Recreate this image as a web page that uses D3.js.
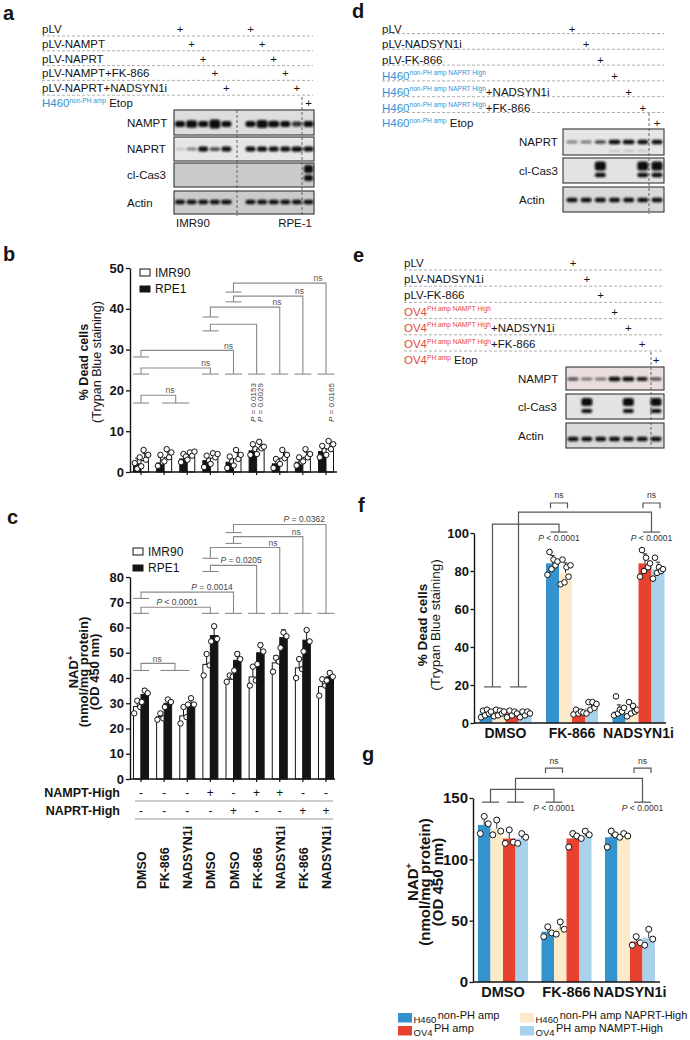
<!DOCTYPE html>
<html><head><meta charset="utf-8">
<script src="https://cdn.jsdelivr.net/npm/d3@7/dist/d3.min.js"></script>
<style>
html,body{margin:0;padding:0;background:#fff}
svg{display:block}
text{font-family:Arial,"Liberation Sans",Helvetica,sans-serif}
</style></head><body>
<script>
// ================= DATA =================
// Panel a (western blot layout)
const aRows = ["pLV","pLV-NAMPT","pLV-NAPRT","pLV-NAMPT+FK-866","pLV-NAPRT+NADSYN1i"];
const aRowLanes = [[0,5],[1,6],[2,7],[3,8],[4,9]];
const aBlotLabels = ["NAMPT","NAPRT","cl-Cas3","Actin"];
const aNAMPT = [1,1.25,1,1.5,1, 1,1.3,1.1,1,0.85, 1];
const aNAPRT = [0.15,0.45,1,0.75,1, 1,1,1,1,1.05, 1];
const aCas3  = [0,0,0,0,0, 0,0,0,0,0, 1];
const aActin = [1,1,1,1,1.05, 1,1,1,1,1, 1];
const aCells = ["IMR90","RPE-1"];

// Panel b
const bTicks = [0,10,20,30,40,50];
const bIMR90 = [2.8,3.6,3.6,3.4,3.2,5.6,3.4,3.6,5.6];
const bRPE1  = [2.0,2.2,3.2,2.8,2.4,5.2,2.0,2.4,5.0];
const bIMR90pts = [[1.4,5.4,3.0,4.2],[2.6,5.6,3.6,4.8],[3.0,4.8,4.0,5.0],[2.0,4.6,3.6,4.4],[1.6,5.4,3.2,4.2],[4.4,7.4,5.8,6.2],[2.0,5.4,3.4,4.2],[2.6,5.6,3.6,4.4],[4.2,7.6,5.6,6.8]];
const bRPE1pts  = [[2.2,0.8,3.6],[1.5,4.2,2.4],[2.4,4.4,3.8],[1.2,4.0,2.8],[1.0,3.8,2.6],[4.2,6.8,5.6],[1.0,3.2,2.4],[1.6,3.6,2.4],[3.6,6.4,5.2]];
const bBrackets = [
  {from:0, fc:16.9, to:1.5, tc:16.9, top:18.8, tw:27, label:"ns", lx:1.25},
  {from:0, fc:24.0, to:3, tc:24.0, top:25.5, label:"ns", lx:2.8},
  {from:0, fc:28.2, to:4, tc:24.0, top:29.8, label:"ns", lx:3.78},
  {from:3, fc:34.6, to:5, tc:24.0, top:36.2, label:"", lx:0},
  {from:3, fc:38.0, to:6, tc:24.0, top:40.4, label:"ns", lx:5.88},
  {from:4, fc:41.7, to:7, tc:24.0, top:43.1, label:"ns", lx:6.85},
  {from:4, fc:44.1, to:8, tc:24.0, top:46.3, label:"ns", lx:7.65}
];
const bRotP = [{g:5, dx:-1, t:"0.0153"},{g:5, dx:6, t:"0.0029"},{g:8, dx:8, t:"0.0165"}];

// Panel c
const cTicks = [0,10,20,30,40,50,60,70,80];
const cIMR90 = [28.7,24.7,25.0,45.4,39.5,40.4,46.0,44.0,36.6];
const cRPE1  = [33.5,30.0,30.0,56.8,47.0,50.0,56.0,55.0,40.5];
const cIMR90pts = [[26,31,28.5],[23.5,26,24],[22,28.5,24.5],[41,49.5,45],[38.5,41,40.5],[37,44.5,39],[42.5,48,46.5],[40,47.5,43.5],[33,39.5,37]];
const cRPE1pts  = [[30.5,35,34],[28.5,31.5,30.5],[29.5,32,29.5],[54.5,60.5,55.5],[43,49.5,47.5],[45.5,53,50.5],[52,58,56.5],[50.5,59,54.5],[39,42,40.5]];
const cBrackets = [
  {from:0, fc:43, to:1.47, tc:43, top:45.8, tw:29, label:"ns", lx:0.7},
  {from:0, fc:65.6, to:3, tc:65.6, top:68, label:"P < 0.0001", lx:1.56},
  {from:0, fc:71.5, to:4, tc:65.6, top:74, label:"P = 0.0014", lx:3.07},
  {from:3, fc:82.2, to:5, tc:65.6, top:84.6, label:"P = 0.0205", lx:4.33},
  {from:3, fc:87.4, to:6, tc:65.6, top:91.7, label:"ns", lx:5.71},
  {from:4, fc:93.3, to:7, tc:65.6, top:96, label:"ns", lx:6.71},
  {from:4, fc:97.6, to:8, tc:65.6, top:100.8, label:"P = 0.0362", lx:7.06}
];
const cNAMPT = ["-","-","-","+","-","+","+","-","-"];
const cNAPRT = ["-","-","-","-","+","-","-","+","+"];
const cTreat = ["DMSO","FK-866","NADSYN1i","DMSO","DMSO","FK-866","NADSYN1i","FK-866","NADSYN1i"];

// Panel d
const dRows = [
  [{t:"pLV"}],
  [{t:"pLV-NADSYN1i"}],
  [{t:"pLV-FK-866"}],
  [{t:"H460",c:"b"},{t:"non-PH amp NAPRT High",c:"b",sup:true}],
  [{t:"H460",c:"b"},{t:"non-PH amp NAPRT High",c:"b",sup:true},{t:"+NADSYN1i"}],
  [{t:"H460",c:"b"},{t:"non-PH amp NAPRT High",c:"b",sup:true},{t:"+FK-866"}],
  [{t:"H460",c:"b"},{t:"non-PH amp",c:"b",sup:true},{t:" Etop"}]
];
const dNAPRT = [0.55,0.6,0.75,1.05,1.05,1,1];
const dNAPRTlow = [0,0,0,0.2,0.25,0.2,0];
const dCas3  = [0,0,1,0,0,1,1];
const dActin = [1,1,1,1,1,1,1];

// Panel e
const eRows = [
  [{t:"pLV"}],
  [{t:"pLV-NADSYN1i"}],
  [{t:"pLV-FK-866"}],
  [{t:"OV4",c:"r"},{t:"PH amp NAMPT High",c:"r",sup:true}],
  [{t:"OV4",c:"r"},{t:"PH amp NAMPT High",c:"r",sup:true},{t:"+NADSYN1i"}],
  [{t:"OV4",c:"r"},{t:"PH amp NAMPT High",c:"r",sup:true},{t:"+FK-866"}],
  [{t:"OV4",c:"r"},{t:"PH amp",c:"r",sup:true},{t:" Etop"}]
];
const eNAMPT = [0.75,0.6,0.6,1.1,1.1,0.95,0.75];
const eCas3  = [0,1,0,0,1,0,1];
const eActin = [1,1,1,1,1,1,1];

// Panel f
const fGroups = ["DMSO","FK-866","NADSYN1i"];
const fTicks = [0,20,40,60,80,100];
const fH460   = [5,84,6];
const fH460N  = [5,79,6.5];
const fOV4    = [5,6,84];
const fOV4N   = [4.5,8,81];
const fH460pts  = [[3,6.5,4,7,5,6],[78,90,81,86,83,85],[4,14,5,7,6,8]];
const fH460Npts = [[3.5,7,4,6.5,5,6],[73,86,74,82,77,83],[3.5,11,5,9,6,7]];
const fOV4pts   = [[3,6.5,4,6,5],[4.5,7,5,6,5.5],[77,91,80,87,82,84]];
const fOV4Npts  = [[3,6,4,6,5],[5,11,7,11,8,10],[76,87,79,82,80,81]];
const fSig = [{pairs:[[0,0],[1,0]], low:19, high:100.5, top:104.7, p:"< 0.0001", nsLeg:113, nsTop:115.8},
              {pairs:[[0,1],[2,1]], low:19, high:100.5, top:111,   p:"< 0.0001", nsLeg:113, nsTop:115.8}];

// Panel g
const gGroups = ["DMSO","FK-866","NADSYN1i"];
const gTicks = [0,50,100,150];
const gH460   = [128,41,118];
const gH460N  = [125,43,119];
const gOV4    = [117,117,33];
const gOV4N   = [117,119,36];
const gH460pts  = [[121,135,129],[37,45,40],[110,123,120]];
const gH460Npts = [[120,132,123],[39,49,43],[118,121,119]];
const gOV4pts   = [[113,124,114],[110,121,119],[30,37,32]];
const gOV4Npts  = [[113,121,118],[117,123,120],[30,43,35]];
const gSig = [{pairs:[[0,0],[1,0]], low:146.6, high:146.6, top:157, p:"< 0.0001", nsLeg:170.3, nsTop:174.4},
              {pairs:[[0,1],[2,1]], low:146.6, high:146.6, top:166, p:"< 0.0001", nsLeg:170.3, nsTop:174.4}];
const gLegend = [
  {t:"H460", s:"non-PH amp", k:0, col:0, row:0},
  {t:"OV4",  s:"PH amp", k:2, col:0, row:1},
  {t:"H460", s:"non-PH amp NAPRT-High", k:1, col:1, row:0},
  {t:"OV4",  s:"PH amp NAMPT-High", k:3, col:1, row:1}
];

// ================= DRAWING =================
const BLUE = "#3b8fd0", RED = "#e8453c";
const SER_COL = ["#3492cc","#fdeac8","#e84130","#a8d2eb"];
const TXT = "#141414";
const svg = d3.select("body").append("svg").attr("width",690).attr("height",1040);
const defs = svg.append("defs");
defs.append("filter").attr("id","blur").attr("x","-50%").attr("y","-100%").attr("width","200%").attr("height","300%")
  .append("feGaussianBlur").attr("stdDeviation",0.8);

function letter(x,y,t){ svg.append("text").attr("x",x).attr("y",y).attr("font-size",20).attr("font-weight","bold").attr("fill",TXT).text(t); }

function rich(g, x, y, parts, fs, sfs, rise){
  const t = g.append("text").attr("x",x).attr("y",y).attr("font-size",fs).attr("fill",TXT);
  let up = false;
  parts.forEach(p=>{
    const ts = t.append("tspan").text(p.t).attr("fill", p.c==="b"?BLUE:(p.c==="r"?RED:TXT));
    if(p.sup){ ts.attr("font-size",sfs); if(!up){ ts.attr("dy",-rise); up=true; } }
    else if(up){ ts.attr("dy",rise); up=false; }
  });
  return t;
}

function blotPanel(g, x0, x1, y0, y1, bg, lanes, vals, bands){
  g.append("rect").attr("x",x0).attr("y",y0).attr("width",x1-x0).attr("height",y1-y0)
    .attr("fill",bg).attr("stroke",bg==="none"?"none":"#333").attr("stroke-width",1.1);
  const bg2 = g.append("g").attr("filter","url(#blur)");
  lanes.forEach((lx,i)=>{
    const v = vals[i]; if(!v) return;
    bands.forEach(b=>{
      const h = b.h*Math.max(0.6, Math.min(v,1.6));
      const w = b.w*(v>1?1.08:1);
      bg2.append("rect").attr("x",lx-w/2).attr("y",y0+b.cy-h/2).attr("width",w).attr("height",h)
        .attr("rx",Math.min(h/2,2.5)).attr("fill","#0d0d0d").attr("opacity",Math.min(1,v));
    });
  });
}

function dashH(g,x1,x2,y){ g.append("line").attr("x1",x1).attr("x2",x2).attr("y1",y).attr("y2",y).attr("stroke","#9a9a9a").attr("stroke-width",0.8).attr("stroke-dasharray","3,2"); }
function dashV(g,x,y1,y2){ g.append("line").attr("x1",x).attr("x2",x).attr("y1",y1).attr("y2",y2).attr("stroke","#555").attr("stroke-width",0.9).attr("stroke-dasharray","3,2"); }
function plus(g,x,y){ g.append("text").attr("x",x).attr("y",y).attr("text-anchor","middle").attr("font-size",11.5).attr("fill",TXT).text("+"); }

// ---------- Panel a ----------
letter(3,20,"a");
const ga = svg.append("g");
const aLaneX = i => 180 + i*11.6 + (i>=5 ? 12.5 : 0);
const aLanes = d3.range(11).map(aLaneX);
const aRowY = i => 29 + i*14.8;
aRows.forEach((r,i)=>{
  ga.append("text").attr("x",42).attr("y",aRowY(i)+4).attr("font-size",11.5).attr("fill",TXT).text(r);
  dashH(ga,42,313,aRowY(i)+7);
  aRowLanes[i].forEach(l=>plus(ga,aLanes[l],aRowY(i)+4));
});
rich(ga,42,aRowY(5)+4,[{t:"H460",c:"b"},{t:"non-PH amp",c:"b",sup:true},{t:" Etop"}],11.5,6.5,4);
plus(ga,aLanes[10],aRowY(5)+4);
const aPanels = [[110,135,"#dedede",aNAMPT,[{cy:14,h:6,w:10}]],
                 [137,161,"#e7e7e7",aNAPRT,[{cy:12,h:5,w:10}]],
                 [163,187,"#cacaca",aCas3,[{cy:6,h:8,w:9},{cy:15,h:6,w:9}]],
                 [191,214,"#cbcbcb",aActin,[{cy:11,h:4.5,w:10}]]];
aPanels.forEach((p,i)=>{
  blotPanel(ga,174,314,p[0],p[1],p[2],aLanes,p[3],p[4]);
  ga.append("text").attr("x",127).attr("y",(p[0]+p[1])/2+4).attr("font-size",11.5).attr("fill",TXT).text(aBlotLabels[i]);
});
dashV(ga,237,110,216); dashV(ga,302,97,216);
ga.append("text").attr("x",176).attr("y",227).attr("font-size",11.5).attr("fill",TXT).text(aCells[0]);
ga.append("text").attr("x",312).attr("y",227).attr("text-anchor","end").attr("font-size",11.5).attr("fill",TXT).text(aCells[1]);

// ---------- common helpers for bar panels ----------
function yAxis(g, x, scale, ticks, fs, ts, pad){
  const ax = g.append("g").attr("transform",`translate(${x},0)`)
    .call(d3.axisLeft(scale).tickValues(ticks).tickSize(ts).tickSizeOuter(0).tickPadding(pad));
  ax.attr("font-family",null);
  ax.selectAll("text").attr("font-size",fs).attr("font-weight","bold").attr("fill",TXT);
  ax.selectAll(".tick line").attr("stroke",TXT).attr("stroke-width",1.3);
  ax.select(".domain").attr("stroke",TXT).attr("stroke-width",1.4);
}
function xLine(g,x1,x2,y){ g.append("line").attr("x1",x1).attr("x2",x2).attr("y1",y).attr("y2",y).attr("stroke",TXT).attr("stroke-width",1.4); }
function rotText(g,x,y,t,fs,bold,anchor){
  return g.append("text").attr("transform",`translate(${x},${y}) rotate(-90)`).attr("text-anchor",anchor||"middle")
    .attr("font-size",fs).attr("font-weight",bold?"bold":null).attr("fill",TXT).text(t);
}
function nadLabel(g,x,y,fs){
  const t = g.append("text").attr("transform",`translate(${x},${y}) rotate(-90)`).attr("text-anchor","middle")
    .attr("font-size",fs).attr("font-weight","bold").attr("fill",TXT);
  t.append("tspan").text("NAD");
  t.append("tspan").attr("font-size",fs*0.6).attr("dy",-fs*0.38).text("+");
}
function pText(g,x,y,rest,fs,anchor,color){
  const t = g.append("text").attr("x",x).attr("y",y).attr("font-size",fs).attr("text-anchor",anchor||"middle").attr("fill",color||"#333");
  t.append("tspan").attr("font-style","italic").text("P");
  t.append("tspan").text(" "+rest);
  return t;
}
function barSet(g, xs, ys, vals, pts, fill, stroke, bw, r, spreadW, errCol){
  vals.forEach((v,i)=>{
    const x0 = xs(i);
    g.append("rect").attr("x",x0).attr("y",ys(v)).attr("width",bw).attr("height",ys(0)-ys(v))
      .attr("fill",fill).attr("stroke",stroke||"none").attr("stroke-width",stroke?1:0);
  });
  vals.forEach((v,i)=>{
    const cx = xs(i)+bw/2, sd = d3.deviation(pts[i]) || 0;
    g.append("line").attr("x1",cx).attr("x2",cx).attr("y1",ys(v)).attr("y2",ys(v+sd)).attr("stroke",errCol).attr("stroke-width",1);
    g.append("line").attr("x1",cx-2.2).attr("x2",cx+2.2).attr("y1",ys(v+sd)).attr("y2",ys(v+sd)).attr("stroke",errCol).attr("stroke-width",1);
  });
  pts.forEach((arr,i)=>{
    const cx = xs(i)+bw/2, n = arr.length;
    arr.forEach((p,j)=>{
      const off = n===1?0:(j/(n-1)-0.5)*spreadW;
      g.append("circle").attr("cx",cx+off).attr("cy",ys(p)).attr("r",r)
        .attr("fill","#fff").attr("stroke","#111").attr("stroke-width",1);
    });
  });
}
function bwLegend(g,x,y){
  g.append("rect").attr("x",x).attr("y",y).attr("width",10).attr("height",7).attr("fill","#fff").attr("stroke",TXT).attr("stroke-width",1);
  g.append("text").attr("x",x+15).attr("y",y+7.5).attr("font-size",12).attr("fill",TXT).text("IMR90");
  g.append("rect").attr("x",x).attr("y",y+17).attr("width",10).attr("height",6).attr("fill",TXT).attr("stroke",TXT).attr("stroke-width",1);
  g.append("text").attr("x",x+15).attr("y",y+24).attr("font-size",12).attr("fill",TXT).text("RPE1");
}
function bracketsGray(g, xs, ys, list){
  const col = "#8a8a8a";
  list.forEach(b=>{
    const x1 = xs(b.from), x2 = xs(b.to), fw = b.fw||16, tw = b.tw||17;
    g.append("line").attr("x1",x1-fw/2).attr("x2",x1+fw/2).attr("y1",ys(b.fc)).attr("y2",ys(b.fc)).attr("stroke",col).attr("stroke-width",1.1);
    g.append("line").attr("x1",x2-tw/2).attr("x2",x2+tw/2).attr("y1",ys(b.tc)).attr("y2",ys(b.tc)).attr("stroke",col).attr("stroke-width",1.1);
    g.append("path").attr("d",`M${x1},${ys(b.fc)}V${ys(b.top)}H${x2}V${ys(b.tc)}`).attr("fill","none").attr("stroke",col).attr("stroke-width",1.1);
    if(b.label==="ns"){
      g.append("text").attr("x",xs(b.lx)).attr("y",ys(b.top)-1.8).attr("text-anchor","middle").attr("font-size",8.5).attr("fill","#555").text("ns");
    } else if(b.label){
      pText(g,xs(b.lx),ys(b.top)-2,b.label.slice(2),8.5,"middle","#444");
    }
  });
}

// ---------- Panel b ----------
letter(3,261,"b");
const gbp = svg.append("g");
const bx = d3.scaleLinear().domain([0,8]).range([141,326]);
const by = d3.scaleLinear().domain([0,50]).range([472,268]);
const BW = 7.5;
bracketsGray(gbp, bx, by, bBrackets);
bRotP.forEach(p=>{
  const t = gbp.append("text").attr("transform",`translate(${bx(p.g)+p.dx},${by(24)+9}) rotate(-90)`).attr("text-anchor","end").attr("font-size",8).attr("fill","#444");
  t.append("tspan").attr("font-style","italic").text("P");
  t.append("tspan").text(" = "+p.t);
});
barSet(gbp, i=>bx(i)-BW, by, bRPE1, bRPE1pts, TXT, TXT, BW, 2.7, 5, TXT);
barSet(gbp, i=>bx(i), by, bIMR90, bIMR90pts, "#fff", TXT, BW, 2.7, 7, TXT);
yAxis(gbp,130,by,bTicks,13,4,2);
xLine(gbp,130,337,472);
d3.range(9).forEach(i=>gbp.append("line").attr("x1",bx(i)).attr("x2",bx(i)).attr("y1",472).attr("y2",475).attr("stroke",TXT).attr("stroke-width",1.2));
rotText(gbp,88,362,"% Dead cells",12.5,true);
rotText(gbp,100.5,362,"(Trypan Blue staining)",12.5,false);
bwLegend(gbp,140,269);

// ---------- Panel c ----------
letter(7,524,"c");
const gcp = svg.append("g");
const cx = d3.scaleLinear().domain([0,8]).range([141,326]);
const cy = d3.scaleLinear().domain([0,80]).range([779,577]);
bracketsGray(gcp, cx, cy, cBrackets);
barSet(gcp, i=>cx(i)-BW, cy, cIMR90, cIMR90pts, "#fff", TXT, BW, 2.7, 6, TXT);
barSet(gcp, i=>cx(i), cy, cRPE1, cRPE1pts, TXT, TXT, BW, 2.7, 6, TXT);
yAxis(gcp,130,cy,cTicks,13,4,2);
xLine(gcp,130,335,779);
d3.range(9).forEach(i=>gcp.append("line").attr("x1",cx(i)).attr("x2",cx(i)).attr("y1",779).attr("y2",782).attr("stroke",TXT).attr("stroke-width",1.2));
nadLabel(gcp,78,672,13);
rotText(gcp,88,672,"(nmol/mg protein)",13,true);
rotText(gcp,99,672,"(OD 450 nm)",13,true);
bwLegend(gcp,133,548);
[["NAMPT-High",cNAMPT,797,801],["NAPRT-High",cNAPRT,815,819]].forEach(r=>{
  gcp.append("text").attr("x",120).attr("y",r[2]).attr("text-anchor","end").attr("font-size",12.5).attr("font-weight","bold").attr("fill",TXT).text(r[0]);
  r[1].forEach((s,i)=>gcp.append("text").attr("x",cx(i)).attr("y",r[2]).attr("text-anchor","middle").attr("font-size",12).attr("fill",TXT).text(s));
  gcp.append("line").attr("x1",135).attr("x2",333).attr("y1",r[3]).attr("y2",r[3]).attr("stroke","#999").attr("stroke-width",1);
});
cTreat.forEach((t,i)=>rotText(gcp,cx(i)+5,889,t,12.5,true,"start"));

// ---------- Panel d ----------
letter(352,18,"d");
const gd = svg.append("g");
const dLane = d3.scalePoint().domain(d3.range(7)).range([572,657]);
const dLanes = d3.range(7).map(dLane);
const dRowY = i => 28.5 + i*15.8;
dRows.forEach((r,i)=>{
  rich(gd,382,dRowY(i)+4,r,11.5,6.6,4.5);
  if(i<6) dashH(gd,382,664,dRowY(i)+5);
  plus(gd,dLanes[i],dRowY(i)+4);
});
blotPanel(gd,563,664,129,155,"#e6e6e6",dLanes,dNAPRT,[{cy:13,h:4.5,w:11}]);
blotPanel(gd,563,664,129,155,"none",dLanes,dNAPRTlow,[{cy:22,h:2.5,w:11}]);
blotPanel(gd,563,664,158,183,"#e3e3e3",dLanes,dCas3,[{cy:8,h:9,w:11},{cy:17,h:4.5,w:11}]);
blotPanel(gd,563,664,187,212,"#d9d9d9",dLanes,dActin,[{cy:13,h:4.5,w:11}]);
[["NAPRT",142],["cl-Cas3",170.5],["Actin",199.5]].forEach(l=>gd.append("text").attr("x",519).attr("y",l[1]+4).attr("font-size",11.5).attr("fill",TXT).text(l[0]));
dashV(gd,649,113,214);

// ---------- Panel e ----------
letter(353,262,"e");
const ge = svg.append("g");
const eLane = d3.scalePoint().domain(d3.range(7)).range([573,656]);
const eLanes = d3.range(7).map(eLane);
const eRowY = i => 263 + i*16.2;
eRows.forEach((r,i)=>{
  rich(ge,404,eRowY(i)+4,r,11.5,6.6,4.5);
  if(i<6) dashH(ge,404,663,eRowY(i)+7);
  plus(ge,eLanes[i],eRowY(i)+4);
});
blotPanel(ge,566,664,367,390,"#e9dddd",eLanes,eNAMPT,[{cy:12,h:4,w:11}]);
blotPanel(ge,566,664,394,419,"#e3e3e3",eLanes,eCas3,[{cy:8,h:8,w:11},{cy:17,h:4,w:11}]);
blotPanel(ge,566,664,423,448,"#dadada",eLanes,eActin,[{cy:16,h:4.5,w:11}]);
[["NAMPT",378.5],["cl-Cas3",406.5],["Actin",435.5]].forEach(l=>ge.append("text").attr("x",518).attr("y",l[1]+4).attr("font-size",11.5).attr("fill",TXT).text(l[0]));
dashV(ge,651,352,448);

// ---------- Panels f & g (coloured) ----------
function colorPanel(g, xs, ys, series, pts, bw, r, spreadW, axisX, axisEnd, ticks, tfs, groups, lblY, lfs){
  series.forEach((vals,k)=>{
    barSet(g, i=>xs(i)+(k-2)*bw, ys, vals, pts[k], SER_COL[k], null, bw, r, spreadW, "#333");
  });
  yAxis(g,axisX,ys,ticks,tfs,3.5,1.5);
  xLine(g,axisX,axisEnd,ys(0));
  groups.forEach((t,i)=>g.append("text").attr("x",xs(i)).attr("y",lblY).attr("text-anchor","middle").attr("font-size",lfs).attr("font-weight","bold").attr("fill",TXT).text(t));
}
function sigDark(g, xs, ys, bw, sig, capW){
  const col = "#555";
  const px = (gi,pi)=>xs(gi)+(pi===0?-bw:bw);
  sig.forEach(s=>{
    const a = px(s.pairs[0][0],s.pairs[0][1]), b = px(s.pairs[1][0],s.pairs[1][1]);
    g.append("line").attr("x1",a-capW/2).attr("x2",a+capW/2).attr("y1",ys(s.low)).attr("y2",ys(s.low)).attr("stroke",col).attr("stroke-width",1.2);
    g.append("line").attr("x1",b-capW/2).attr("x2",b+capW/2).attr("y1",ys(s.high)).attr("y2",ys(s.high)).attr("stroke",col).attr("stroke-width",1.2);
    g.append("path").attr("d",`M${a},${ys(s.low)}V${ys(s.top)}H${b}V${ys(s.high)}`).attr("fill","none").attr("stroke",col).attr("stroke-width",1.2);
    pText(g,b,ys(s.high)+9,s.p,8.5,"middle","#333");
    g.append("path").attr("d",`M${b-8.5},${ys(s.nsLeg)}V${ys(s.nsTop)}H${b+8.5}V${ys(s.nsLeg)}`).attr("fill","none").attr("stroke",col).attr("stroke-width",1.2);
    g.append("text").attr("x",b).attr("y",ys(s.nsTop)-4.5).attr("text-anchor","middle").attr("font-size",8.5).attr("fill","#333").text("ns");
  });
}

letter(358,512,"f");
const gf = svg.append("g");
const fx = d3.scaleLinear().domain([0,2]).range([505.5,638.5]);
const fy = d3.scaleLinear().domain([0,100]).range([723,533]);
sigDark(gf, fx, fy, 13, fSig, 17);
colorPanel(gf, fx, fy, [fH460,fH460N,fOV4,fOV4N], [fH460pts,fH460Npts,fOV4pts,fOV4Npts], 13, 2.8, 10, 474, 666, fTicks, 13, fGroups, 738, 14);
rotText(gf,427,625,"% Dead cells",13.5,true);
rotText(gf,439.5,625,"(Trypan Blue staining)",13.5,false);

letter(362,761,"g");
const gg = svg.append("g");
const gx = d3.scaleLinear().domain([0,2]).range([503,630]);
const gy = d3.scaleLinear().domain([0,150]).range([982,798]);
sigDark(gg, gx, gy, 12.5, gSig, 17);
colorPanel(gg, gx, gy, [gH460,gH460N,gOV4,gOV4N], [gH460pts,gH460Npts,gOV4pts,gOV4Npts], 12.5, 3, 8, 473, 660, gTicks, 15, gGroups, 997, 14.5);
nadLabel(gg,418,882,15);
rotText(gg,430,882,"(nmol/mg protein)",15,true);
rotText(gg,443,882,"(OD 450 nm)",15,true);
gLegend.forEach(l=>{
  const x = l.col? 520 : 398, y = l.row? 1026 : 1013;
  gg.append("rect").attr("x",x).attr("y",y).attr("width",14).attr("height",9.5).attr("fill",SER_COL[l.k]);
  const t = gg.append("text").attr("x",x+15.5).attr("y",y+9.5).attr("font-size",9.5).attr("fill",TXT);
  t.append("tspan").text(l.t);
  t.append("tspan").attr("font-size",11).attr("dx",1.5).attr("dy",-4).text(l.s);
});
</script></body></html>
